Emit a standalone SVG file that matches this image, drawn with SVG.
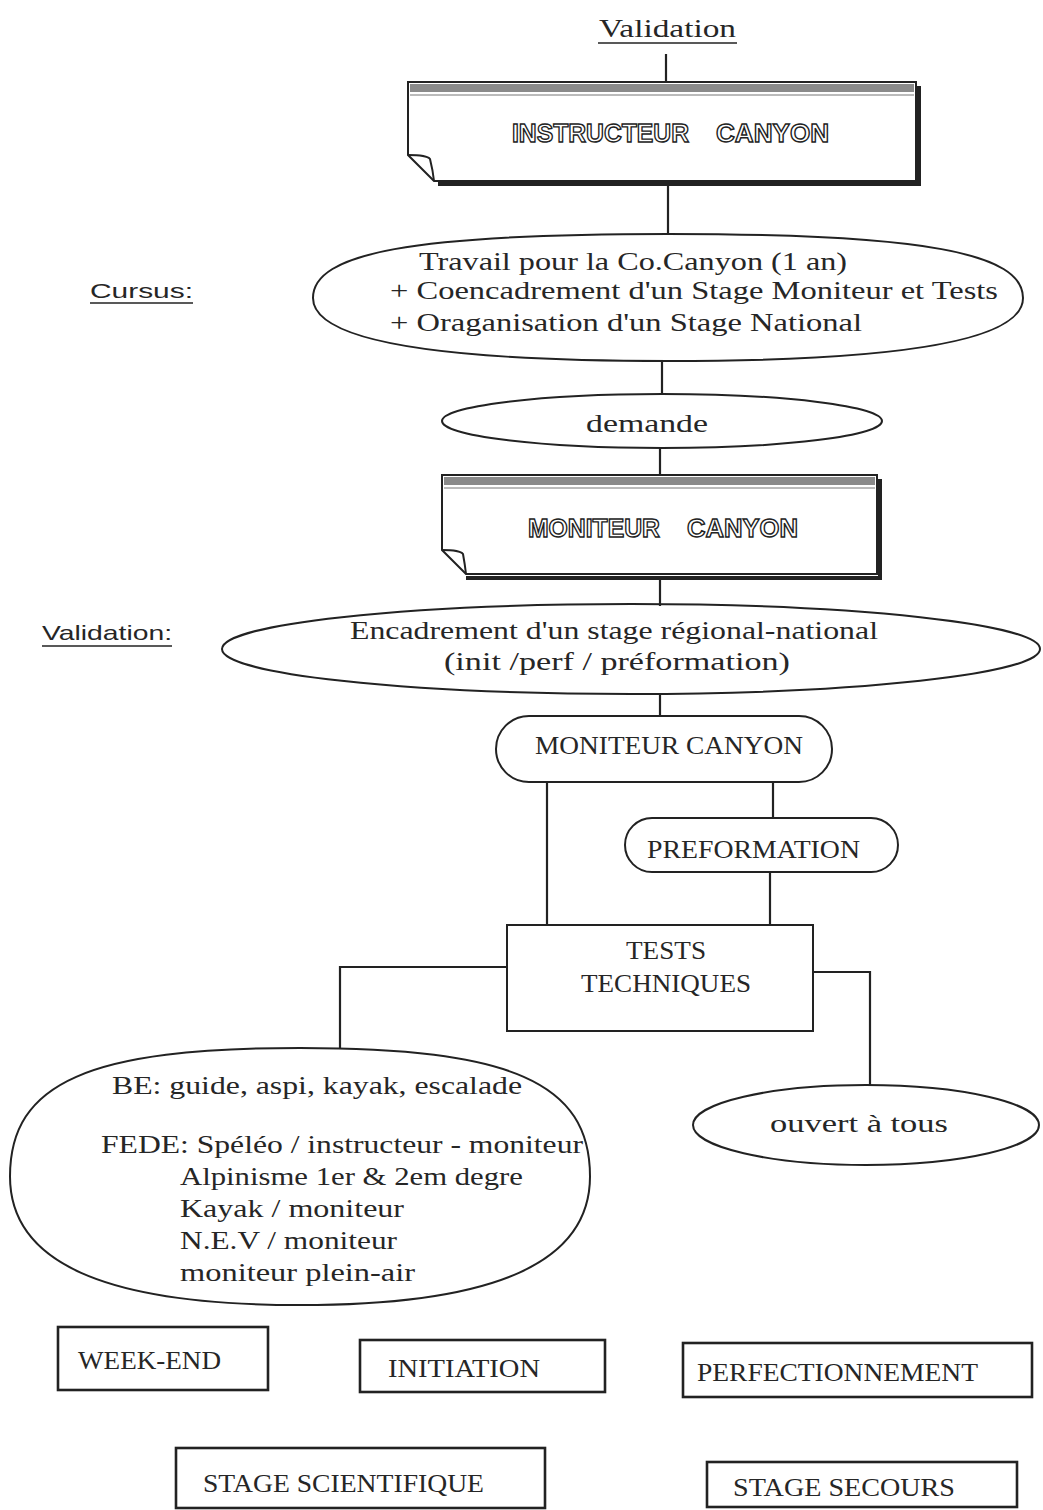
<svg xmlns="http://www.w3.org/2000/svg" width="1043" height="1510" viewBox="0 0 1043 1510">
<style>
.s{font-family:"Liberation Serif","DejaVu Serif",serif;font-size:26px;fill:#262626}
.a{font-family:"Liberation Sans","DejaVu Sans",sans-serif;font-size:21px;fill:#262626}
.o{font-family:"Liberation Sans","DejaVu Sans",sans-serif;font-size:26px;font-weight:bold;fill:#fff;stroke:#222;stroke-width:1.4}
.sh{fill:none;stroke:#222;stroke-width:2}
.bx{fill:none;stroke:#222;stroke-width:2.6}
.shadow{fill:none;stroke:#222;stroke-width:4}
.ln{stroke:#222;stroke-width:2.2;fill:none}
.band{fill:#8a8a8a}
.ul{stroke:#222;stroke-width:1.6}
</style>
<rect width="1043" height="1510" fill="#fff"/>

<g id="connectors" class="ln">
<line x1="666" y1="54" x2="666" y2="82"/>
<line x1="668" y1="186" x2="668" y2="235"/>
<line x1="662" y1="361" x2="662" y2="395"/>
<line x1="660" y1="448" x2="660" y2="476"/>
<line x1="660" y1="580" x2="660" y2="606"/>
<line x1="660" y1="694" x2="660" y2="717"/>
<line x1="547" y1="782" x2="547" y2="925"/>
<line x1="773" y1="782" x2="773" y2="818"/>
<line x1="770" y1="872" x2="770" y2="926"/>
<polyline points="507,967 340,967 340,1049"/>
<polyline points="813,972 870,972 870,1086"/>
</g>

<g id="label-validation-top">
<text class="s" x="599" y="37" textLength="137" lengthAdjust="spacingAndGlyphs" font-size="24">Validation</text>
<line class="ul" x1="598" y1="43" x2="737" y2="43"/>
</g>

<g id="instructeur">
<polyline class="shadow" points="919,86 919,184 438,184"/>
<path class="sh" d="M408,82 H916 V181 H434 L408,155 Z"/>
<path class="sh" d="M408,155 Q427,155 430,159 Q433,171 434,181"/>
<rect class="band" x="410" y="84" width="504" height="8"/>
<line x1="410" y1="95" x2="914" y2="95" stroke="#777" stroke-width="1"/>
<text class="o" x="512" y="142" textLength="177" lengthAdjust="spacingAndGlyphs">INSTRUCTEUR</text>
<text class="o" x="716" y="142" textLength="113" lengthAdjust="spacingAndGlyphs">CANYON</text>
</g>

<g id="label-cursus">
<text class="a" x="90" y="298" textLength="103" lengthAdjust="spacingAndGlyphs">Cursus:</text>
<line class="ul" x1="90" y1="303" x2="193" y2="303"/>
</g>

<g id="cursus">
<path class="sh" d="M668,234 C924,234 1023,253 1023,298 C1023,340 905,361 668,361 C431,361 313,340 313,298 C313,253 412,234 668,234 Z"/>
<text class="s" x="419" y="270" textLength="428" lengthAdjust="spacingAndGlyphs" font-size="26">Travail pour la Co.Canyon (1 an)</text>
<text class="s" x="390" y="299" textLength="608" lengthAdjust="spacingAndGlyphs" font-size="26">+ Coencadrement d'un Stage Moniteur et Tests</text>
<text class="s" x="390" y="331" textLength="472" lengthAdjust="spacingAndGlyphs" font-size="26">+ Oraganisation d'un Stage National</text>
</g>

<g id="demande">
<ellipse class="sh" cx="662" cy="421" rx="220" ry="27"/>
<text class="s" x="647" y="432" text-anchor="middle" textLength="122" lengthAdjust="spacingAndGlyphs" font-size="25">demande</text>
</g>

<g id="moniteur-doc">
<polyline class="shadow" points="880,479 880,578 466,578"/>
<path class="sh" d="M442,475 H877 V574 H466 L442,550 Z"/>
<path class="sh" d="M442,550 Q460,550 463,554 Q465,565 466,574"/>
<rect class="band" x="444" y="477" width="431" height="8"/>
<line x1="444" y1="488" x2="875" y2="488" stroke="#777" stroke-width="1"/>
<text class="o" x="528" y="537" textLength="132" lengthAdjust="spacingAndGlyphs">MONITEUR</text>
<text class="o" x="687" y="537" textLength="111" lengthAdjust="spacingAndGlyphs">CANYON</text>
</g>

<g id="label-validation">
<text class="a" x="42" y="640" textLength="130" lengthAdjust="spacingAndGlyphs">Validation:</text>
<line class="ul" x1="42" y1="646" x2="172" y2="646"/>
</g>

<g id="encadrement">
<ellipse class="sh" cx="631" cy="649" rx="409" ry="45"/>
<text class="s" x="350" y="639" textLength="528" lengthAdjust="spacingAndGlyphs" font-size="25">Encadrement d'un stage régional-national</text>
<text class="s" x="444" y="670" textLength="346" lengthAdjust="spacingAndGlyphs" font-size="25">(init /perf / préformation)</text>
</g>

<g id="moniteur-canyon">
<rect class="sh" x="496" y="716" width="336" height="66" rx="33"/>
<text class="s" x="535" y="754" textLength="268" lengthAdjust="spacingAndGlyphs">MONITEUR CANYON</text>
</g>

<g id="preformation">
<rect class="sh" x="625" y="818" width="273" height="54" rx="27"/>
<text class="s" x="647" y="858" textLength="213" lengthAdjust="spacingAndGlyphs">PREFORMATION</text>
</g>

<g id="tests">
<rect class="sh" x="507" y="925" width="306" height="106"/>
<text class="s" x="626" y="959" textLength="80" lengthAdjust="spacingAndGlyphs">TESTS</text>
<text class="s" x="581" y="992" textLength="170" lengthAdjust="spacingAndGlyphs">TECHNIQUES</text>
</g>

<g id="be-fede">
<path class="sh" d="M300,1048 C510,1048 590,1082 590,1176.5 C590,1262 497,1305 300,1305 C103,1305 10,1262 10,1176.5 C10,1082 90,1048 300,1048 Z"/>
<text class="s" x="112" y="1094" textLength="410" lengthAdjust="spacingAndGlyphs" font-size="24">BE: guide, aspi, kayak, escalade</text>
<text class="s" x="101" y="1153" textLength="482" lengthAdjust="spacingAndGlyphs" font-size="24">FEDE: Spéléo / instructeur - moniteur</text>
<text class="s" x="180" y="1185" textLength="343" lengthAdjust="spacingAndGlyphs" font-size="24">Alpinisme 1er &amp; 2em degre</text>
<text class="s" x="180" y="1217" textLength="224" lengthAdjust="spacingAndGlyphs" font-size="24">Kayak / moniteur</text>
<text class="s" x="180" y="1249" textLength="217" lengthAdjust="spacingAndGlyphs" font-size="24">N.E.V / moniteur</text>
<text class="s" x="180" y="1281" textLength="235" lengthAdjust="spacingAndGlyphs" font-size="24">moniteur plein-air</text>
</g>

<g id="ouvert">
<ellipse class="sh" cx="866" cy="1125" rx="173" ry="40"/>
<text class="s" x="770" y="1132" textLength="178" lengthAdjust="spacingAndGlyphs" font-size="24">ouvert à tous</text>
</g>

<g id="week-end">
<rect class="bx" x="58" y="1327" width="210" height="63"/>
<text class="s" x="78" y="1369" textLength="143" lengthAdjust="spacingAndGlyphs" font-size="27">WEEK-END</text>
</g>
<g id="initiation">
<rect class="bx" x="360" y="1340" width="245" height="52"/>
<text class="s" x="388" y="1377" textLength="152" lengthAdjust="spacingAndGlyphs" font-size="27">INITIATION</text>
</g>
<g id="perfectionnement">
<rect class="bx" x="683" y="1343" width="349" height="54"/>
<text class="s" x="697" y="1381" textLength="281" lengthAdjust="spacingAndGlyphs" font-size="27">PERFECTIONNEMENT</text>
</g>
<g id="stage-scientifique">
<rect class="bx" x="176" y="1448" width="369" height="60"/>
<text class="s" x="203" y="1492" textLength="281" lengthAdjust="spacingAndGlyphs" font-size="27">STAGE SCIENTIFIQUE</text>
</g>
<g id="stage-secours">
<rect class="bx" x="707" y="1462" width="310" height="45"/>
<text class="s" x="733" y="1496" textLength="222" lengthAdjust="spacingAndGlyphs" font-size="27">STAGE SECOURS</text>
</g>
</svg>
